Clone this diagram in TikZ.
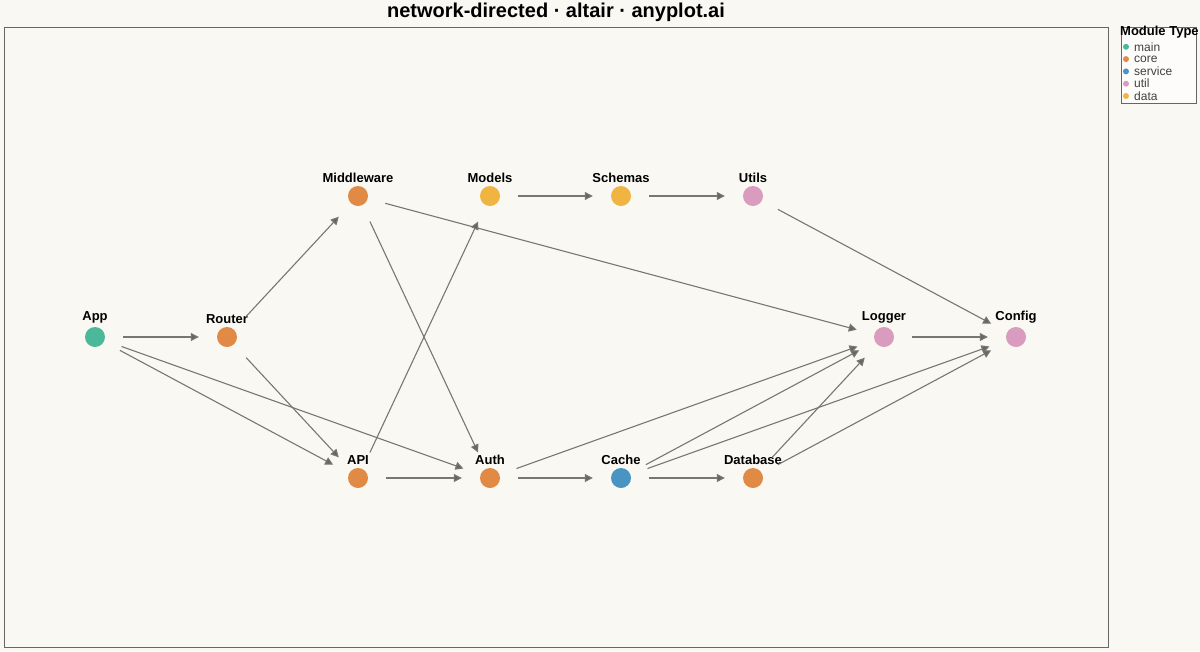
\documentclass[tikz,border=0pt]{standalone}
\usepackage{fontspec}
\setmainfont{Liberation Sans}
\usetikzlibrary{arrows.meta}
\definecolor{bgc}{HTML}{FAF8F2}
\definecolor{cmain}{HTML}{4CB89A}
\definecolor{ccore}{HTML}{E08A45}
\definecolor{cservice}{HTML}{4A94C4}
\definecolor{cutil}{HTML}{D99BBE}
\definecolor{cdata}{HTML}{F0B443}
\definecolor{edgec}{HTML}{777770}
\begin{document}
\begin{tikzpicture}[x=1pt,y=-1pt,
  mod/.style={circle,minimum size=20pt,inner sep=0pt,fill=#1,
    label={[font=\bfseries\fontsize{13}{13}\selectfont,yshift=-3pt]above:\strut}},
  dep/.style={draw=edgec,line width=1.1pt,-{Triangle[length=8pt,width=8pt,fill=black!60]},
    shorten <=18pt,shorten >=18pt},
  key/.style={font=\fontsize{12}{12}\selectfont,text=black!75,anchor=west,inner sep=0pt}]
  \useasboundingbox (0,0) rectangle (1200,651);
  \fill[bgc] (0,0) rectangle (1200,651);
  \draw[black!60] (4,27) rectangle (1108,647);
  \node[font=\bfseries\fontsize{20}{20}\selectfont] (title) at (556,12) {network-directed · altair · anyplot.ai};

% modules
  \node[mod=cmain,label={[font=\bfseries\fontsize{13}{13}\selectfont]above:App}]         (app)   at (95,337)  {};
  \node[mod=ccore,label={[font=\bfseries\fontsize{13}{13}\selectfont]above:Router}]      (router) at (227,337) {};
  \node[mod=ccore,label={[font=\bfseries\fontsize{13}{13}\selectfont]above:Middleware}]  (mw)    at (358,196) {};
  \node[mod=cdata,label={[font=\bfseries\fontsize{13}{13}\selectfont]above:Models}]      (models) at (490,196) {};
  \node[mod=cdata,label={[font=\bfseries\fontsize{13}{13}\selectfont]above:Schemas}]     (schemas) at (621,196) {};
  \node[mod=cutil,label={[font=\bfseries\fontsize{13}{13}\selectfont]above:Utils}]       (utils) at (753,196) {};
  \node[mod=cutil,label={[font=\bfseries\fontsize{13}{13}\selectfont]above:Logger}]      (logger) at (884,337) {};
  \node[mod=cutil,label={[font=\bfseries\fontsize{13}{13}\selectfont]above:Config}]      (config) at (1016,337) {};
  \node[mod=ccore,label={[font=\bfseries\fontsize{13}{13}\selectfont]above:API}]         (api)   at (358,478) {};
  \node[mod=ccore,label={[font=\bfseries\fontsize{13}{13}\selectfont]above:Auth}]        (auth)  at (490,478) {};
  \node[mod=cservice,label={[font=\bfseries\fontsize{13}{13}\selectfont]above:Cache}]    (cache) at (621,478) {};
  \node[mod=ccore,label={[font=\bfseries\fontsize{13}{13}\selectfont]above:Database}]    (db)    at (753,478) {};

% dependencies
  \foreach \a/\b in {app/router,app/api,app/auth,router/mw,router/api,mw/auth,mw/logger,
      api/models,api/auth,models/schemas,schemas/utils,utils/config,logger/config,
      auth/cache,auth/logger,cache/db,cache/logger,cache/config,db/logger,db/config}
    \draw[dep] (\a) -- (\b);

% legend
  \draw[black!60,fill=white!60!bgc] (1121,27) rectangle (1196,103);
  \node[font=\bfseries\fontsize{13}{13}\selectfont,anchor=west,inner sep=0pt] (ltitle) at (1120,32) {Module Type};
  \foreach \c/\t [count=\i] in {cmain/main,ccore/core,cservice/service,cutil/util,cdata/data}{
    \fill[\c] (1126,34.5+12.3*\i) circle (3pt);
    \node[key] (k\i) at (1134,34.5+12.3*\i) {\t};
  }
\end{tikzpicture}
\end{document}
